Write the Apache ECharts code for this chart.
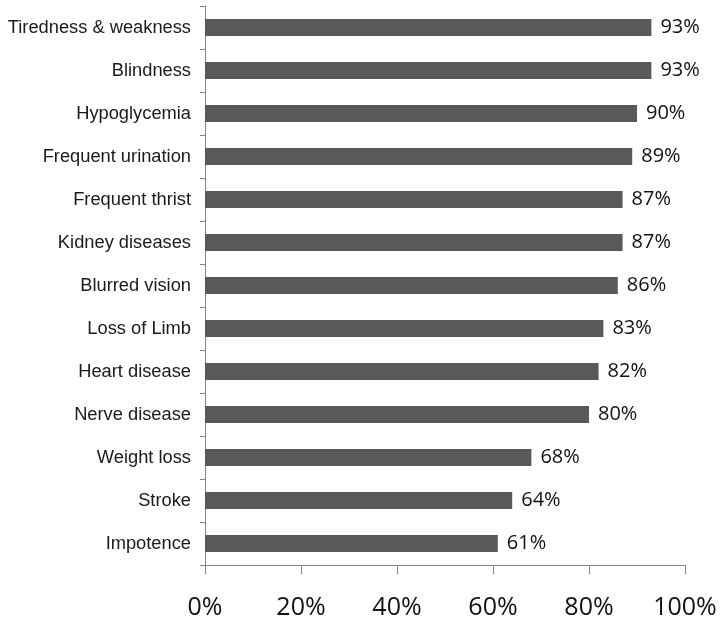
<!DOCTYPE html>
<html>
<head>
<meta charset="utf-8">
<script src="https://cdn.jsdelivr.net/npm/echarts@6/dist/echarts.min.js"></script>
<style>html,body{margin:0;padding:0;background:#fff;}#c{width:720px;height:622px;}</style>
</head>
<body>
<div id="c"></div>
<script>
const categories = ["Tiredness & weakness","Blindness","Hypoglycemia","Frequent urination","Frequent thrist","Kidney diseases","Blurred vision","Loss of Limb","Heart disease","Nerve disease","Weight loss","Stroke","Impotence"];
const values = [93,93,90,89,87,87,86,83,82,80,68,64,61];
const xTicks = [0,20,40,60,80,100];

const chart = echarts.init(document.getElementById('c'), null, {renderer:'canvas'});
chart.setOption({
  animation:false,
  backgroundColor:'#fff',
  grid:{left:205,right:35,top:6,bottom:57,containLabel:false},
  xAxis:{
    type:'value', min:xTicks[0], max:xTicks[xTicks.length-1], interval:20,
    splitLine:{show:false},
    axisLine:{show:true,lineStyle:{color:'#868686',width:1}},
    axisTick:{show:true,length:9,lineStyle:{color:'#868686'}},
    axisLabel:{formatter:'{value}%',fontFamily:'Open Sans',fontSize:25,color:'#111',margin:30}
  },
  yAxis:{
    type:'category', data:categories, inverse:true,
    axisLine:{show:true,lineStyle:{color:'#868686',width:1}},
    axisTick:{show:true,length:5,lineStyle:{color:'#868686'}},
    axisLabel:{fontFamily:'Liberation Sans',fontSize:18.3,color:'#1a1a1a',margin:14}
  },
  series:[{
    type:'bar', data:values, barWidth:17,
    itemStyle:{color:'#595959'},
    label:{show:true,position:'right',distance:9,formatter:'{c}%',fontFamily:'Open Sans',fontSize:20,color:'#111'}
  }]
});
</script>
</body>
</html>
